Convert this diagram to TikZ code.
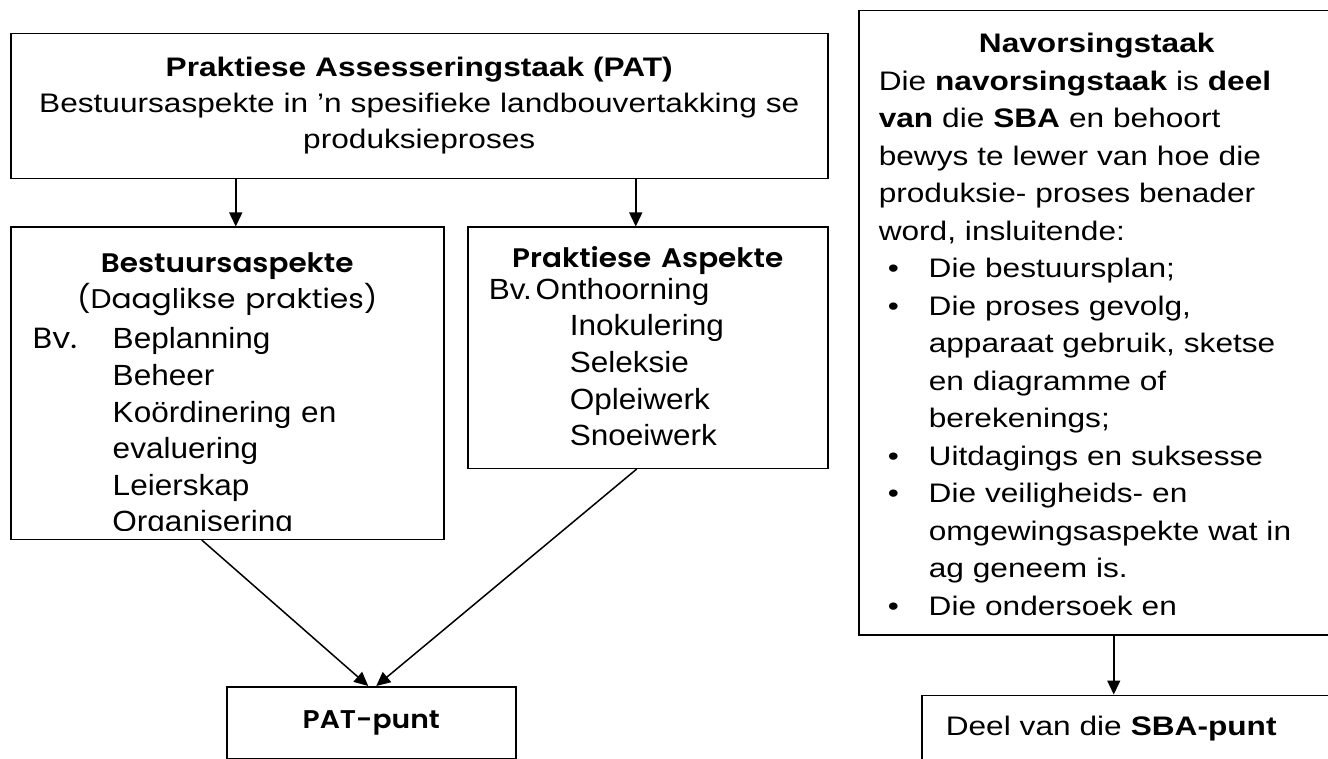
\documentclass[tikz,border=0pt]{standalone}
\usepackage{fontspec}
\setmainfont{Liberation Sans}[FakeStretch=1.18]
\newfontfamily\arialL{Liberation Sans}[FakeStretch=1.08]
\newfontfamily\gothic{Poppins}[FakeStretch=1.1, BoldFont={Poppins SemiBold}]
\usepackage{xcolor}
\usetikzlibrary{arrows.meta, positioning}
\newcommand{\blt}{\hspace*{4.5pt}\makebox[20.5pt][l]{\textbullet}}

\begin{document}
\begin{tikzpicture}[
  font=\fontsize{13.4}{18.75}\selectfont,
  block/.style={draw, line width=0.75pt, inner ysep=0pt, align=left},
  pathead/.style={block, text width=408.5pt, inner xsep=0pt, align=center, text height=21.5pt, text depth=51pt, font=\fontsize{13.4}{18}\selectfont},
  aspect/.style={block, font=\arialL\fontsize{14.6}{18.3}\selectfont},
  research/.style={block, text width=218pt, inner xsep=10pt, text height=21pt, text depth=291pt},
  result/.style={block, inner sep=0pt, minimum width=144.5pt, minimum height=36pt, font=\gothic\bfseries\fontsize{12.8}{16}\selectfont},
  line/.style={-{Triangle[length=7pt, width=6.5pt]}, line width=0.75pt}
]
\useasboundingbox (0,0) rectangle (664pt,-379.5pt);

% Row 1: PAT task and research task
\node[pathead, anchor=north west] (pat) at (5pt,-16.5pt)
  {\textbf{Praktiese Assesseringstaak (PAT)}\\Bestuursaspekte in ’n spesifieke landbouvertakking se\\produksieproses};
\node[research, anchor=north west] (nav) at (429pt,-5pt)
  {\makebox[218pt]{\textbf{Navorsingstaak}}\\
   Die \textbf{navorsingstaak} is \textbf{deel}\\
   \textbf{van} die \textbf{SBA} en behoort\\
   bewys te lewer van hoe die\\
   produksie- proses benader\\
   word, insluitende:\\
   \blt Die bestuursplan;\\
   \blt Die proses gevolg,\\
   \hspace*{25pt}apparaat gebruik, sketse\\
   \hspace*{25pt}en diagramme of\\
   \hspace*{25pt}berekenings;\\
   \blt Uitdagings en suksesse\\
   \blt Die veiligheids- en\\
   \hspace*{25pt}omgewingsaspekte wat in\\
   \hspace*{25pt}ag geneem is.\\
   \blt Die ondersoek en};

% Row 2: aspects
\node[aspect, text width=216.5pt, inner xsep=0pt, text height=22.5pt, text depth=133.5pt,
  below right=23.5pt and 0pt of pat.south west] (best)
  {\makebox[216.5pt]{\gothic\bfseries\fontsize{13.4}{18.3}\selectfont Bestuursaspekte}\\
   \makebox[216.5pt]{\gothic\fontsize{13.5}{18.3}\selectfont (Daaglikse prakties)}\\[1.7pt]
   \hspace*{11pt}\makebox[40pt][l]{\gothic Bv.}Beplanning\\
   \hspace*{51pt}Beheer\\
   \hspace*{51pt}Koördinering en\\
   \hspace*{51pt}evaluering\\
   \hspace*{51pt}Leierskap};
\begin{scope}
  \clip (best.north west) rectangle ([yshift=5pt]best.south east);
  \node[anchor=base west, inner sep=0pt, font=\arialL\fontsize{14.6}{18.3}\selectfont] (org)
    at ([xshift=51pt, yshift=-152.5pt]best.north west) {Organisering};
\end{scope}
\node[aspect, text width=159pt, inner xsep=10.5pt, text height=20pt, text depth=100.5pt,
  below left=23.5pt and 0pt of pat.south east] (prak)
  {\makebox[159pt]{\gothic\bfseries\fontsize{13.4}{18.5}\selectfont Praktiese Aspekte}\\[-2.3pt]
   \makebox[23.5pt][l]{Bv.}Onthoorning\\
   \hspace*{40.5pt}Inokulering\\
   \hspace*{40.5pt}Seleksie\\
   \hspace*{40.5pt}Opleiwerk\\
   \hspace*{40.5pt}Snoeiwerk};

% Row 3: marks
\node[result, below right=73pt and 108pt of best.south west] (patpunt) {PAT-punt};
\node[block, text width=220pt, inner xsep=12pt, text height=20pt, text depth=40pt,
  below right=29.5pt and 31.5pt of nav.south west] (sba) {Deel van die \textbf{SBA-punt}};

% Connections
\draw[line] ([xshift=4.25pt]best.north |- pat.south) -- ([xshift=4.25pt]best.north);
\draw[line] ([xshift=-6pt]prak.north |- pat.south) -- ([xshift=-6pt]prak.north);
\draw[line] ([xshift=-12.75pt]best.south) -- ([xshift=-1.5pt]patpunt.north);
\draw[line] ([xshift=-5.5pt]prak.south) -- ([xshift=2.5pt]patpunt.north);
\draw[line] ([xshift=8.5pt]nav.south) -- ([xshift=8.5pt]nav.south |- sba.north);

\end{tikzpicture}
\end{document}
